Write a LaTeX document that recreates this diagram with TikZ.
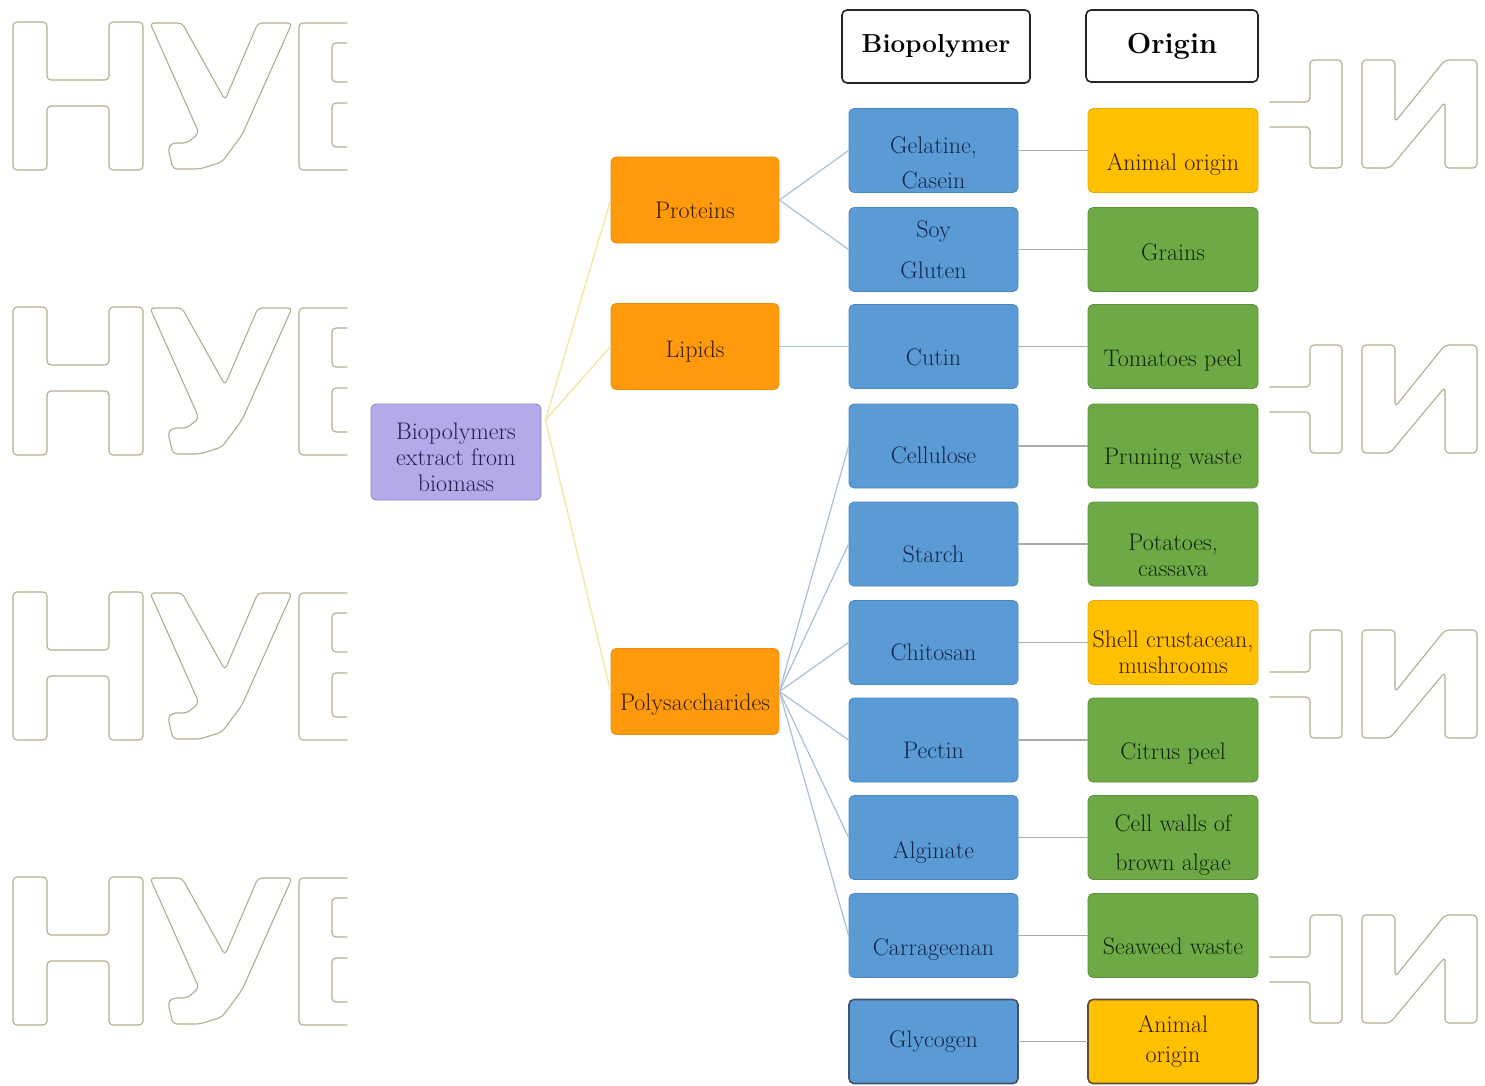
\documentclass[tikz,border=0pt]{standalone}
\usepackage{tikz}
\usetikzlibrary{calc,positioning}

\definecolor{cBlue}{HTML}{5B9BD5}
\definecolor{cBlueLine}{HTML}{4A86C2}
\definecolor{cBlueText}{HTML}{13264A}
\definecolor{cOrange}{HTML}{FF9A0C}
\definecolor{cYellow}{HTML}{FFC000}
\definecolor{cBrownText}{HTML}{3A1C02}
\definecolor{cGreen}{HTML}{6DAA45}
\definecolor{cGreenText}{HTML}{122507}
\definecolor{cLilac}{HTML}{B5A9EA}
\definecolor{cLilacText}{HTML}{20204A}
\definecolor{cStem}{HTML}{F2E6A6}
\definecolor{cTwig}{HTML}{A9BFD8}
\definecolor{cLink}{HTML}{ABABAB}
\definecolor{cMark}{HTML}{B2AC8E}

\newcommand\lift[1]{\rule{0pt}{#1}}

\tikzset{
  sink/.code={\def\sinkht{#1}},
  box/.style={draw, rounded corners=5pt, line width=0.8pt, minimum width=169pt,
    minimum height=84pt, inner xsep=1pt, inner ysep=2pt, align=center,
    font=\fontsize{24}{26}\selectfont, sink=38pt,
    execute at begin node={\rule{0pt}{\sinkht}}},
  bio/.style={box, fill=cBlue, draw=cBlueLine, text=cBlueText},
  plant/.style={box, minimum width=170pt, fill=cGreen, draw=cGreen!85!black, text=cGreenText},
  animal/.style={box, minimum width=170pt, fill=cYellow, draw=cYellow!90!black, text=cBrownText},
  grp/.style={box, minimum width=168pt, minimum height=86pt, fill=cOrange, draw=cOrange!92!black, text=cBrownText},
  rootbox/.style={box, minimum width=170pt, minimum height=96pt, fill=cLilac, draw=cLilac!80!black, text=cLilacText},
  hdr/.style={draw=black!85, line width=1.6pt, fill=white, rounded corners=5pt,
    font=\bfseries\fontsize{26}{30}\selectfont},
  stem/.style={draw=cStem, line width=1.4pt},
  twig/.style={draw=cTwig, line width=1.2pt},
  link/.style={draw=cLink, line width=1.2pt},
  wmark/.style={draw=cMark, line width=1.1pt, rounded corners=4pt}
}

\begin{document}
\begin{tikzpicture}[x=1pt,y=-1pt,line cap=round,line join=round]
\useasboundingbox (0,0) rectangle (1485,1086);

% watermark letters
\foreach \dy in {0,285,570,855}{
  \begin{scope}[shift={(0,\dy)}]
    \draw[wmark] (13,22) -- (47,22) -- (47,80) -- (109,80) -- (109,22) -- (143,22) -- (143,170)
      -- (109,170) -- (109,106) -- (47,106) -- (47,170) -- (13,170) -- cycle;
    \draw[wmark] (150,23) -- (182,23) -- (225,100) -- (258,23) -- (292,23) -- (242,135)
      -- (222,162) -- (200,169) -- (173,169) -- (168,148) -- (172,143) -- (187,143) -- (199,133) -- cycle;
    \draw[wmark] (347,23) -- (299,23) -- (299,170) -- (347,170);
    \draw[wmark] (347,43) -- (332,43) -- (332,82) -- (347,82);
    \draw[wmark] (347,103) -- (332,103) -- (332,147) -- (347,147);
    \draw[wmark] (1270,102) -- (1310,102) -- (1310,60) -- (1342,60) -- (1342,168) -- (1310,168)
      -- (1310,127) -- (1270,127);
    \draw[wmark] (1362,60) -- (1395,60) -- (1395,122) -- (1445,60) -- (1477,60) -- (1477,168)
      -- (1445,168) -- (1445,102) -- (1390,168) -- (1362,168) -- cycle;
  \end{scope}
}

% headers
\node[hdr, minimum width=188pt, minimum height=73pt] (hbio) at (936,46.5) {Biopolymer};
\node[hdr, minimum width=172pt, minimum height=72pt, font=\bfseries\fontsize{29}{32}\selectfont] (horg) at (1172,46) {Origin};

% root and groups
\node[rootbox, sink=0pt] (root) at (456,452) {\lift{27pt}Biopolymers\\extract from\\biomass};
\node[grp] (prot) at (695,200) {Proteins};
\node[grp, sink=26pt] (lip) at (695,346.5) {Lipids};
\node[grp, sink=42pt] (poly) at (695,691.5) {Polysaccharides};

% biopolymers
\node[bio, sink=0pt] (b1) at (933.5,150.5) {\lift{41pt}Gelatine,\\[9pt]Casein};
\node[bio, sink=0pt] (b2) at (933.5,249.5) {Soy\\[15pt]Gluten};
\node[bio, sink=39pt] (b3) at (933.5,346.5) {Cutin};
\node[bio, sink=36pt] (b4) at (933.5,446) {Cellulose};
\node[bio] (b5) at (933.5,544) {Starch};
\node[bio, sink=37pt] (b6) at (933.5,642.5) {Chitosan};
\node[bio] (b7) at (933.5,740) {Pectin};
\node[bio, sink=46pt] (b8) at (933.5,837.5) {Alginate};
\node[bio, sink=44pt] (b9) at (933.5,935.5) {Carrageenan};
\node[bio, sink=0pt, draw=cBlueText!80, line width=1.6pt] (b10) at (933.5,1041.5) {Glycogen};

% origins
\node[animal, sink=44pt] (o1) at (1173,150.5) {Animal origin};
\node[plant, sink=23pt] (o2) at (1173,249.5) {Grains};
\node[plant, sink=44pt] (o3) at (1173,346.5) {Tomatoes peel};
\node[plant, sink=41pt] (o4) at (1173,446) {Pruning waste};
\node[plant, sink=0pt] (o5) at (1173,544) {\lift{39pt}Potatoes,\\cassava};
\node[animal, sink=0pt] (o6) at (1173,642.5) {\lift{37pt}Shell crustacean,\\mushrooms};
\node[plant, sink=43pt] (o7) at (1173,740) {Citrus peel};
\node[plant, sink=0pt] (o8) at (1173,837.5) {\lift{31pt}Cell walls of\\[13pt]brown algae};
\node[plant, sink=39pt] (o9) at (1173,935.5) {Seaweed waste};
\node[animal, sink=0pt, draw=cBrownText!80, line width=1.6pt] (o10) at (1173,1041.5) {Animal\\[4pt]origin};

% connectors
\coordinate (hub) at ([shift={(4,-32)}]root.east);
\foreach \g in {prot,lip,poly}
  \draw[stem] (hub) -- (\g.west);
\foreach \b in {b1,b2}
  \draw[twig] (prot.east) -- (\b.west);
\draw[twig] (lip.east) -- (b3.west);
\foreach \b in {b4,b5,b6,b7,b8,b9}
  \draw[twig] (poly.east) -- (\b.west);
\foreach \i in {1,...,10}
  \draw[link] (b\i.east) -- (o\i.west);
\end{tikzpicture}
\end{document}
